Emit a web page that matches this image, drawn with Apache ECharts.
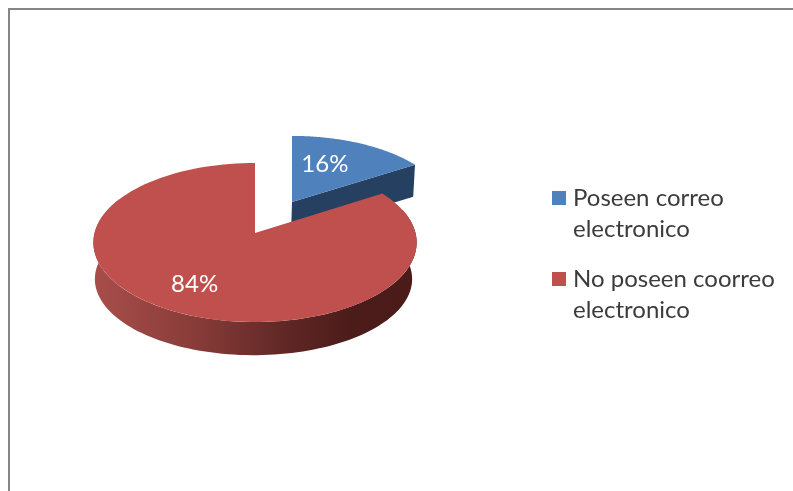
<!DOCTYPE html>
<html><head><meta charset="utf-8">
<style>html,body{margin:0;padding:0;background:#fff}#c{width:793px;height:491px}</style>
<script src="https://cdn.jsdelivr.net/npm/echarts@6/dist/echarts.min.js"></script>
</head><body><div id="c"></div>
<script>
const categories = ['Poseen correo\nelectronico', 'No poseen coorreo\nelectronico'];
const values = [16, 84];
const labels = ['16%', '84%'];
const topColors = ['#4f81bd', '#c0504d'];

// Layout of each exploded slice on the tilted disk: top face and the lower rim under it
const disks = [
  {cx: 292, cy: 202, rx: 155, ry: 74, labelR: 0.55, nudge: [-6, -4],
   bottom: {dx: -1, dy: 32, rx: 154, ry: 74}},
  {cx: 255, cy: 233, rx: 160.5, ry: 78.4, labelR: 0.7, nudge: [-2, -1],
   bottom: {dx: -1.5, dy: 37, rx: 157.5, ry: 75}}
];
const PERSPECTIVE = 0.1195;
const total = values.reduce((a, b) => a + b, 0);
const startAngles = values.map((_, i) => values.slice(0, i).reduce((a, b) => a + b, 0) / total * Math.PI * 2);
const endAngles = values.map((_, i) => values.slice(0, i + 1).reduce((a, b) => a + b, 0) / total * Math.PI * 2);

function project(d, theta, r, bottom) {
  const X = Math.sin(theta) * r, Y = Math.cos(theta) * r, w = 1 + PERSPECTIVE * Y;
  if (bottom) {
    const b = d.bottom;
    return [d.cx + b.dx + b.rx * X / w, d.cy + b.dy - b.ry * Y / w];
  }
  return [d.cx + d.rx * X / w, d.cy - d.ry * Y / w];
}
function ring(d, a0, a1, bottom) {
  const pts = [], n = 120;
  for (let i = 0; i <= n; i++) pts.push(project(d, a0 + (a1 - a0) * i / n, 1, bottom));
  return pts;
}
const redSide = {type: 'linear', x: 0, y: 0, x2: 1, y2: 0, colorStops: [
  {offset: 0, color: '#a84e4b'}, {offset: 0.3, color: '#8a3d3a'},
  {offset: 0.6, color: '#5f2725'}, {offset: 0.8, color: '#4b1c1a'}, {offset: 1, color: '#4a1b19'}]};

function renderSlice(i) {
  const d = disks[i], a0 = startAngles[i], a1 = endAngles[i];
  const apex = project(d, 0, 0, false), apexB = project(d, 0, 0, true);
  const children = [];
  if (i === 0) {
    children.push({type: 'polygon', shape: {points: [apex, project(d, a1, 1, false), project(d, a1, 1, true), apexB]},
      style: {fill: '#254061'}});
  } else {
    const topR = ring(d, Math.PI * 0.4, Math.PI * 1.65, false);
    const botR = ring(d, Math.PI * 0.4, Math.PI * 1.65, true).reverse();
    children.push({type: 'polygon', shape: {points: topR.concat(botR)}, style: {fill: redSide}});
  }
  children.push({type: 'polygon', shape: {points: [apex].concat(ring(d, a0, a1, false))}, style: {fill: topColors[i]}});
  const mid = (a0 + a1) / 2, lp = project(d, mid, d.labelR, false);
  children.push({type: 'text', style: {x: lp[0] + d.nudge[0], y: lp[1] + d.nudge[1], text: labels[i], fill: '#fff',
    font: '24px Lato', align: 'center', verticalAlign: 'middle'}});
  return {type: 'group', children};
}

const chart = echarts.init(document.getElementById('c'), null, {renderer: 'canvas'});
chart.setOption({
  animation: false,
  backgroundColor: '#fff',
  legend: {
    orient: 'vertical', left: 552, top: 151.5, padding: 0,
    itemWidth: 14, itemHeight: 14, itemGap: -12, icon: 'rect', selectedMode: false,
    data: categories,
    formatter: n => ' \n' + n,
    textStyle: {fontFamily: 'Lato', fontSize: 24, lineHeight: 31, color: '#3c3c3c', padding: [0, 0, 0, 2]}
  },
  graphic: [{type: 'rect', silent: true, shape: {x: 9, y: 9, width: 1000, height: 1000},
    style: {fill: 'none', stroke: '#868686', lineWidth: 2}}],
  series: categories.map((name, i) => ({
    type: 'custom', name, coordinateSystem: 'none', silent: true,
    itemStyle: {color: topColors[i]},
    data: [values[i]],
    renderItem: () => renderSlice(i)
  }))
});
</script></body></html>
